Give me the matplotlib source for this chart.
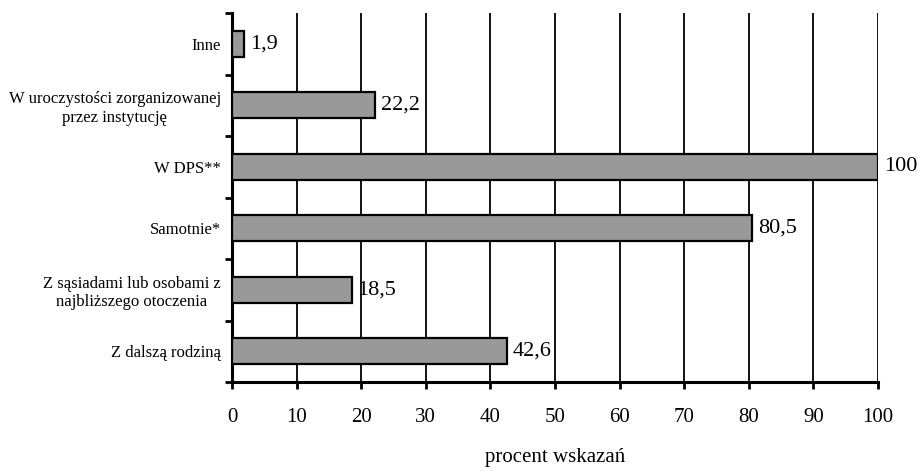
import matplotlib.pyplot as plt

plt.rcParams['font.family'] = ['Liberation Serif', 'DejaVu Serif']

# Dane
kategorie = ["Z dalszą rodziną",
             "Z sąsiadami lub osobami z\nnajbliższego otoczenia",
             "Samotnie*",
             "W DPS**",
             "W uroczystości zorganizowanej\nprzez instytucję",
             "Inne"]
wartosci = [42.6, 18.5, 80.5, 100, 22.2, 1.9]
etykiety = ["42,6", "18,5", "80,5", "100", "22,2", "1,9"]
x_ticks = [0, 10, 20, 30, 40, 50, 60, 70, 80, 90, 100]

fig = plt.figure(figsize=(9.17, 4.71), dpi=100)
ax = fig.add_axes([232 / 917, 1 - 382 / 471, (878 - 232) / 917, (382 - 13) / 471])

pos = list(range(len(kategorie)))
ax.barh(pos, wartosci, height=0.42, color="#999999", edgecolor="black",
        linewidth=1.6, zorder=3)

for p, v, e in zip(pos, wartosci, etykiety):
    ax.text(v + 0.9, p, e, va="center", ha="left", fontsize=16)

ax.set_xlim(0, 100)
ax.set_ylim(-0.5, len(kategorie) - 0.5)
ax.set_xticks(x_ticks)
ax.set_xticklabels([str(t) for t in x_ticks], fontsize=15)
ax.set_yticks(pos)
ax.set_yticklabels(kategorie, fontsize=12, multialignment="center")
ax.set_yticks([p - 0.5 for p in pos] + [len(pos) - 0.5], minor=True)
ax.tick_params(axis="y", which="major", length=0, pad=8)
ax.tick_params(axis="y", which="minor", length=5, width=2, direction="out")
ax.tick_params(axis="x", length=5, width=2, direction="out", pad=14)

ax.grid(axis="x", color="black", linewidth=1.3, zorder=0)
ax.set_axisbelow(True)

for s in ["top", "right"]:
    ax.spines[s].set_visible(False)
ax.spines["left"].set_linewidth(2.2)
ax.spines["bottom"].set_linewidth(2.2)

ax.set_xlabel("procent wskazań", fontsize=15, labelpad=15)

fig.savefig("out.png", dpi=100)
